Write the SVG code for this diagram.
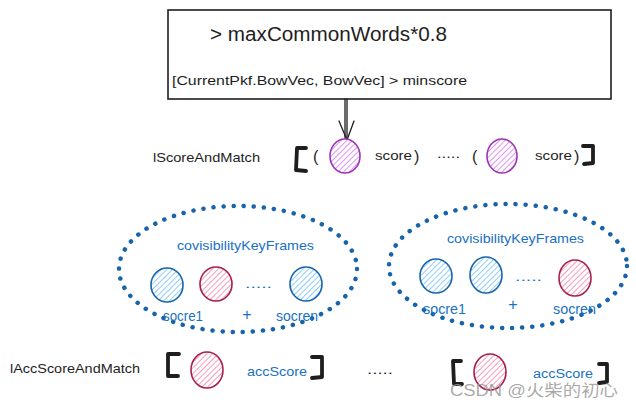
<svg xmlns="http://www.w3.org/2000/svg" width="636" height="407" viewBox="0 0 636 407">
<style>
  text { font-family: "Liberation Sans", "Noto Sans CJK SC", sans-serif; }
  .blk { fill: #1e1e1e; font-size: 13px; }
  .blu { fill: #1971c2; font-size: 13px; }
  .brk { fill: none; stroke: #1e1e1e; stroke-width: 3.8; stroke-linecap: round; stroke-linejoin: round; }
  .dotted { fill: none; stroke: #1864ab; stroke-width: 4.5; stroke-linecap: round; stroke-dasharray: 0.1 10; }
  .cp { fill: url(#hp); stroke: #9c36b5; stroke-width: 1.6; }
  .cb { fill: url(#hb); stroke: #1864ab; stroke-width: 1.6; }
  .cr { fill: url(#hr); stroke: #a61e4d; stroke-width: 1.6; }
  .conn { fill: none; stroke: #1e1e1e; stroke-width: 1.3; stroke-linecap: round; }
</style>
<defs>
  <pattern id="hp" patternUnits="userSpaceOnUse" width="4" height="4" patternTransform="rotate(45)">
    <rect width="4" height="4" fill="#fff"/>
    <line x1="0" y1="0" x2="0" y2="4" stroke="#da77f2" stroke-width="1.6"/>
  </pattern>
  <pattern id="hb" patternUnits="userSpaceOnUse" width="4" height="4" patternTransform="rotate(45)">
    <rect width="4" height="4" fill="#fff"/>
    <line x1="0" y1="0" x2="0" y2="4" stroke="#74c0fc" stroke-width="1.6"/>
  </pattern>
  <pattern id="hr" patternUnits="userSpaceOnUse" width="4" height="4" patternTransform="rotate(45)">
    <rect width="4" height="4" fill="#fff"/>
    <line x1="0" y1="0" x2="0" y2="4" stroke="#f783ac" stroke-width="1.6"/>
  </pattern>
</defs>
<rect width="636" height="407" fill="#ffffff"/>

<g id="condition-box">
  <rect x="168" y="10" width="443" height="89" fill="#fff" stroke="#1e1e1e" stroke-width="1.6"/>
  <text x="210" y="41" class="blk" style="font-size:20px" textLength="237" lengthAdjust="spacingAndGlyphs">&gt; maxCommonWords*0.8</text>
  <text x="172" y="85" class="blk" textLength="295" lengthAdjust="spacingAndGlyphs">[CurrentPkf.BowVec, BowVec] &gt; minscore</text>
</g>

<g id="connectors">
  <path class="conn" d="M347 99 L347 140 M345 99 L345 138"/>
  <path class="conn" d="M339 121 L347 140 L354 121"/>
</g>

<g id="lScoreAndMatch">
  <text x="153" y="162" class="blk" textLength="107" lengthAdjust="spacingAndGlyphs">lScoreAndMatch</text>
  <path class="brk" d="M306 148 L297 148 L296 170 L306 171"/>
  <text x="313" y="162" class="blk" style="font-size:16px">(</text>
  <ellipse class="cp" cx="345" cy="156" rx="15" ry="17"/>
  <text x="375" y="160" class="blk" textLength="37" lengthAdjust="spacingAndGlyphs">score</text>
  <text x="414" y="162" class="blk" style="font-size:16px">)</text>
  <text x="437" y="158" class="blk" textLength="23" lengthAdjust="spacingAndGlyphs">.....</text>
  <text x="472" y="162" class="blk" style="font-size:16px">(</text>
  <ellipse class="cp" cx="502" cy="156" rx="15" ry="17"/>
  <text x="535" y="160" class="blk" textLength="37" lengthAdjust="spacingAndGlyphs">score</text>
  <text x="574" y="162" class="blk" style="font-size:16px">)</text>
  <path class="brk" d="M583 146 L593 146 L593 163 L584 164"/>
</g>

<g id="covisibility-1">
  <ellipse class="dotted" cx="238" cy="269" rx="119" ry="63"/>
  <text x="177" y="250" class="blu" textLength="137" lengthAdjust="spacingAndGlyphs">covisibilityKeyFrames</text>
  <ellipse class="cb" cx="167" cy="285" rx="16" ry="17"/>
  <ellipse class="cr" cx="216" cy="284" rx="16" ry="17"/>
  <text x="245" y="288" class="blu" textLength="27" lengthAdjust="spacingAndGlyphs">.....</text>
  <ellipse class="cb" cx="306" cy="284" rx="16" ry="17"/>
  <text x="163" y="321" class="blu" style="font-size:14px" textLength="40" lengthAdjust="spacingAndGlyphs">socre1</text>
  <text x="247" y="320" class="blu" style="font-size:16px" text-anchor="middle">+</text>
  <text x="276" y="321" class="blu" style="font-size:14px" textLength="42" lengthAdjust="spacingAndGlyphs">socren</text>
</g>

<g id="covisibility-2">
  <ellipse class="dotted" cx="508" cy="266" rx="119" ry="62"/>
  <text x="447" y="243" class="blu" textLength="137" lengthAdjust="spacingAndGlyphs">covisibilityKeyFrames</text>
  <ellipse class="cb" cx="436" cy="276" rx="16" ry="17"/>
  <ellipse class="cb" cx="486" cy="275" rx="16" ry="18"/>
  <text x="515" y="281" class="blu" textLength="27" lengthAdjust="spacingAndGlyphs">.....</text>
  <ellipse class="cr" cx="575" cy="278" rx="16" ry="18"/>
  <text x="423" y="314" class="blu" style="font-size:14px" textLength="43" lengthAdjust="spacingAndGlyphs">socre1</text>
  <text x="513" y="310" class="blu" style="font-size:16px" text-anchor="middle">+</text>
  <text x="553" y="314" class="blu" style="font-size:14px" textLength="43" lengthAdjust="spacingAndGlyphs">socren</text>
</g>

<g id="lAccScoreAndMatch">
  <text x="10" y="373" class="blk" textLength="130" lengthAdjust="spacingAndGlyphs">lAccScoreAndMatch</text>
  <path class="brk" d="M179 354 L168 354 L168 376 L178 376"/>
  <ellipse class="cr" cx="207" cy="370" rx="16" ry="18"/>
  <text x="247" y="376" class="blu" textLength="60" lengthAdjust="spacingAndGlyphs">accScore</text>
  <path class="brk" d="M312 357 L322 357 L322 377 L312 378"/>
  <text x="367" y="374" class="blk" textLength="26" lengthAdjust="spacingAndGlyphs">.....</text>
  <path class="brk" d="M461 361 L453 361 L454 384 L462 384"/>
  <ellipse class="cr" cx="490" cy="372" rx="16" ry="18"/>
  <text x="533" y="378" class="blu" style="font-size:12px" textLength="60" lengthAdjust="spacingAndGlyphs">accScore</text>
  <path class="brk" d="M599 364 L607 364 L607 382 L599 383"/>
</g>

<text x="450" y="396" style="font-size:16px; fill:#9a9a9a; fill-opacity:0.85" textLength="168" lengthAdjust="spacingAndGlyphs">CSDN @火柴的初心</text>
</svg>
